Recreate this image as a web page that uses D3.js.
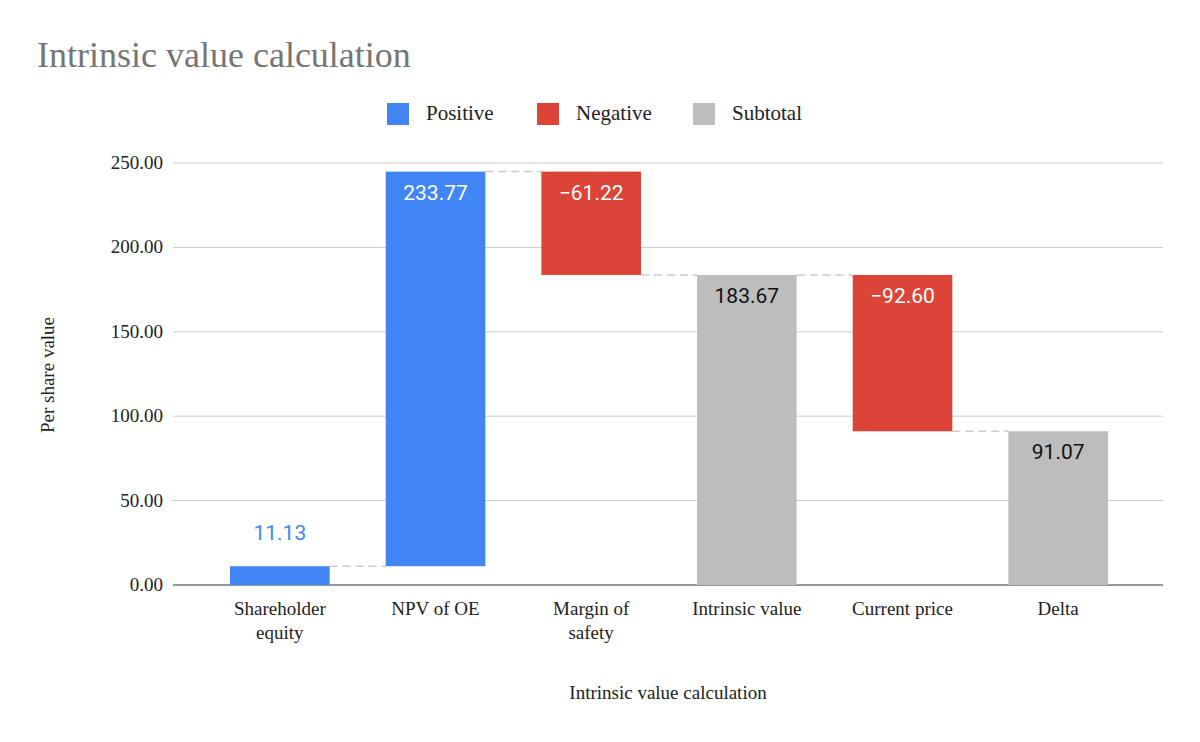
<!DOCTYPE html>
<html><head><meta charset="utf-8">
<script src="https://cdn.jsdelivr.net/npm/d3@7"></script>
<style>body{margin:0;background:#fff}</style>
</head><body>
<svg id="chart" width="1200" height="742"></svg>
<script>
var categories = ['Shareholder\nequity', 'NPV of OE', 'Margin of\nsafety', 'Intrinsic value', 'Current price', 'Delta'];
var values = [11.13, 233.77, -61.22, 183.67, -92.60, 91.07];
var kinds = ['pos', 'pos', 'neg', 'sub', 'neg', 'sub'];
var yTicks = [0, 50, 100, 150, 200, 250];

var colors = {pos: '#4285f4', neg: '#db4437', sub: '#bdbdbd'};
var serif = '"Liberation Serif", "DejaVu Serif", serif';
var sans = 'Roboto, Arial, sans-serif';

var svg = d3.select('#chart');
var x = d3.scaleBand().domain(categories).range([202, 1136]).paddingInner(0.36).paddingOuter(0.18);
var y = d3.scaleLinear().domain([0, 250]).range([585, 163]);

// build waterfall segments
var run = 0, bars = [];
values.forEach(function(v, i) {
	var b;
	if (kinds[i] == 'sub') { b = {lo: 0, hi: v}; run = v; }
	else { var s = run; run = run + v; b = {lo: Math.min(s, run), hi: Math.max(s, run)}; }
	b.end = run; b.v = v; b.k = kinds[i]; b.c = categories[i];
	bars.push(b);
});

// grid
svg.selectAll('.grid').data(yTicks).enter().append('line')
	.attr('x1', 173).attr('x2', 1163)
	.attr('y1', function(d) { return y(d); }).attr('y2', function(d) { return y(d); })
	.attr('stroke', function(d) { return d == 0 ? '#333' : '#ccc'; }).attr('stroke-width', 1);

svg.selectAll('.tick').data(yTicks).enter().append('text')
	.attr('x', 163).attr('y', function(d) { return y(d) + 6; })
	.attr('text-anchor', 'end').attr('font-family', serif).attr('font-size', 19).attr('fill', '#222')
	.text(function(d) { return d3.format('.2f')(d); });

// connectors
bars.forEach(function(b, i) {
	if (i == bars.length - 1) return;
	svg.append('line')
		.attr('x1', x(b.c) + x.bandwidth()).attr('x2', x(bars[i + 1].c))
		.attr('y1', y(b.end)).attr('y2', y(b.end))
		.attr('stroke', '#ccc').attr('stroke-width', 1.5).attr('stroke-dasharray', '8,5');
});

svg.selectAll('.bar').data(bars).enter().append('rect')
	.attr('x', function(d) { return x(d.c); }).attr('width', x.bandwidth())
	.attr('y', function(d) { return y(d.hi); })
	.attr('height', function(d) { return y(d.lo) - y(d.hi); })
	.attr('fill', function(d) { return colors[d.k]; });

// data labels
svg.selectAll('.lab').data(bars).enter().append('text')
	.attr('x', function(d) { return x(d.c) + x.bandwidth() / 2; })
	.attr('y', function(d) { return (y(d.lo) - y(d.hi) < 40) ? y(d.hi) - 26 : y(d.hi) + 28; })
	.attr('text-anchor', 'middle').attr('font-family', sans).attr('font-size', 21)
	.attr('fill', function(d) {
		if (y(d.lo) - y(d.hi) < 40) return colors[d.k];
		return d.k == 'sub' ? '#111' : '#fff';
	})
	.text(function(d) { return d3.format('.2f')(d.v); });

// x labels
bars.forEach(function(b) {
	var t = svg.append('text').attr('x', x(b.c) + x.bandwidth() / 2).attr('y', 615)
		.attr('text-anchor', 'middle').attr('font-family', serif).attr('font-size', 19).attr('fill', '#222');
	b.c.split('\n').forEach(function(s, j) {
		t.append('tspan').attr('x', x(b.c) + x.bandwidth() / 2).attr('dy', j ? 24 : 0).text(s);
	});
});

svg.append('text').attr('x', 37).attr('y', 67).attr('font-family', serif).attr('font-size', 36)
	.attr('fill', '#757575').text('Intrinsic value calculation');

svg.append('text').attr('x', 668).attr('y', 699).attr('text-anchor', 'middle')
	.attr('font-family', serif).attr('font-size', 19).attr('fill', '#222').text('Intrinsic value calculation');

svg.append('text').attr('transform', 'translate(54,375) rotate(-90)').attr('text-anchor', 'middle')
	.attr('font-family', serif).attr('font-size', 19).attr('fill', '#222').text('Per share value');

// legend
var legend = [['Positive', 'pos', 387], ['Negative', 'neg', 537], ['Subtotal', 'sub', 693]];
legend.forEach(function(l) {
	svg.append('rect').attr('x', l[2]).attr('y', 103).attr('width', 22).attr('height', 22).attr('fill', colors[l[1]]);
	svg.append('text').attr('x', l[2] + 39).attr('y', 120).attr('font-family', serif).attr('font-size', 21)
		.attr('fill', '#222').text(l[0]);
});
</script>
</body></html>
